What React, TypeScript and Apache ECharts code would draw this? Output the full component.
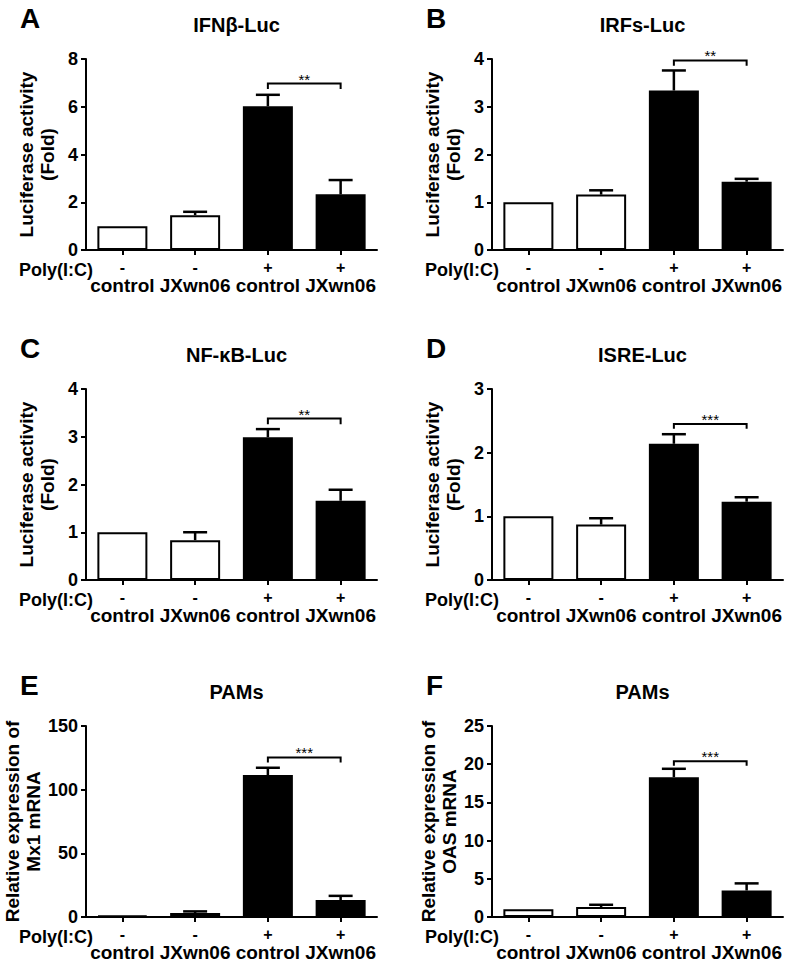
import React, { useEffect, useRef } from "react";
import * as echarts from "echarts";

// ---------- data ----------
const groups = ["control", "JXwn06", "control", "JXwn06"];
const polyIC = ["-", "-", "+", "+"];
const panelLetters = ["A", "B", "C", "D", "E", "F"];
const panelTitles = ["IFNβ-Luc", "IRFs-Luc", "NF-κB-Luc", "ISRE-Luc", "PAMs", "PAMs"];
const yNames = [
  "Luciferase activity\n(Fold)",
  "Luciferase activity\n(Fold)",
  "Luciferase activity\n(Fold)",
  "Luciferase activity\n(Fold)",
  "Relative expression of\nMx1 mRNA",
  "Relative expression of\nOAS mRNA",
];
const yMax = [8, 4, 4, 3, 150, 25];
const yStep = [2, 1, 1, 1, 50, 5];

const meanA = [1, 1.46, 6.02, 2.33];
const upperA = [null, 1.6, 6.5, 2.93];
const meanB = [1, 1.16, 3.34, 1.43];
const upperB = [null, 1.25, 3.76, 1.49];
const meanC = [1, 0.835, 2.99, 1.66];
const upperC = [null, 1.0, 3.16, 1.89];
const meanD = [1, 0.87, 2.14, 1.23];
const upperD = [null, 0.97, 2.29, 1.3];
const meanE = [1, 3.1, 111.5, 13.3];
const upperE = [null, 4.4, 117.2, 16.6];
const meanF = [1, 1.3, 18.3, 3.47];
const upperF = [null, 1.6, 19.4, 4.4];

const means = [meanA, meanB, meanC, meanD, meanE, meanF];
const uppers = [upperA, upperB, upperC, upperD, upperE, upperF];
const bracketLevel = [6.97, 3.97, 3.38, 2.45, 125.3, 20.4];
const bracketDrop = [0.23, 0.11, 0.12, 0.075, 4, 0.6];
const stars = ["**", "**", "**", "***", "***", "***"];

const FONT = "'Liberation Sans', Arial, sans-serif";

export default function App() {
  const ref = useRef<HTMLDivElement>(null);
  useEffect(() => {
    if (!ref.current) return;
    const chart = echarts.init(ref.current, null, { renderer: "svg" });

    // layout
    const colLeft = [86, 492];
    const gridW = 291;
    const rowTop = [59, 389, 726];
    const gridH = 191;

    const grids: any[] = [];
    const xAxes: any[] = [];
    const yAxes: any[] = [];
    const series: any[] = [];
    const titles: any[] = [];
    const graphics: any[] = [];

    for (let p = 0; p < 6; p++) {
      const col = p % 2;
      const row = Math.floor(p / 2);
      const left = colLeft[col];
      const top = rowTop[row];
      grids.push({ left, top, width: gridW, height: gridH, containLabel: false });

      xAxes.push({
        type: "category",
        gridIndex: p,
        data: groups.map((g, i) => ({ value: g + i, label: g })),
        axisLine: { lineStyle: { color: "#000", width: 2 } },
        axisTick: { show: true, alignWithLabel: true, length: 5, lineStyle: { color: "#000", width: 2 } },
        axisLabel: {
          interval: 0,
          margin: 9,
          formatter: (v: string, i: number) => `{s|${polyIC[i]}}\n{g|${groups[i]}}`,
          rich: {
            s: { fontFamily: FONT, fontWeight: "bold", fontSize: 16, color: "#000", lineHeight: 16 },
            g: { fontFamily: FONT, fontWeight: "bold", fontSize: 19, color: "#000", lineHeight: 20 },
          },
        },
      });

      yAxes.push({
        type: "value",
        gridIndex: p,
        min: 0,
        max: yMax[p],
        interval: yStep[p],
        name: yNames[p],
        nameLocation: "middle",
        nameGap: 28,
        nameRotate: 90,
        nameTextStyle: { fontFamily: FONT, fontWeight: "bold", fontSize: 19, color: "#000", lineHeight: 21 },
        axisLine: { show: true, lineStyle: { color: "#000", width: 2 } },
        axisTick: { show: true, length: 5, lineStyle: { color: "#000", width: 2 } },
        axisLabel: { fontFamily: FONT, fontWeight: "bold", fontSize: 18, color: "#000", margin: 8, lineHeight: 18 },
        splitLine: { show: false },
      });

      series.push({
        type: "bar",
        xAxisIndex: p,
        yAxisIndex: p,
        barWidth: 50,
        data: means[p].map((v, i) => ({
          value: v,
          itemStyle: {
            color: i < 2 ? "#fff" : "#000",
            borderColor: "#000",
            borderWidth: 2,
          },
        })),
        z: 2,
      });

      series.push({
        type: "custom",
        xAxisIndex: p,
        yAxisIndex: p,
        z: 3,
        data: uppers[p]
          .map((u, i) => (u == null ? null : [i, u, means[p][i]]))
          .filter((d) => d != null),
        renderItem: (params: any, api: any) => {
          const x = api.value(0);
          const top = api.coord([x, api.value(1)]);
          const base = api.coord([x, api.value(2)]);
          const capHalf = 12;
          return {
            type: "group",
            children: [
              {
                type: "line",
                shape: { x1: top[0], y1: top[1], x2: base[0], y2: base[1] },
                style: { stroke: "#000", lineWidth: 2.5 },
              },
              {
                type: "line",
                shape: { x1: top[0] - capHalf, y1: top[1], x2: top[0] + capHalf, y2: top[1] },
                style: { stroke: "#000", lineWidth: 2.5 },
              },
            ],
          };
        },
      });

      series.push({
        type: "custom",
        xAxisIndex: p,
        yAxisIndex: p,
        z: 4,
        data: [[2, bracketLevel[p], 3, bracketLevel[p] - bracketDrop[p]]],
        renderItem: (params: any, api: any) => {
          const a = api.coord([api.value(0), api.value(1)]);
          const b = api.coord([api.value(2), api.value(1)]);
          const d = api.coord([api.value(0), api.value(3)]);
          const drop = d[1] - a[1];
          return {
            type: "group",
            children: [
              {
                type: "polyline",
                shape: { points: [[a[0], a[1] + drop], a, b, [b[0], b[1] + drop]] },
                style: { stroke: "#000", lineWidth: 2, fill: "none" },
              },
              {
                type: "text",
                style: {
                  x: (a[0] + b[0]) / 2,
                  y: a[1] + 3,
                  text: stars[p],
                  fill: "#000",
                  font: `15px ${FONT}`,
                  align: "center",
                  verticalAlign: "bottom",
                },
              },
            ],
          };
        },
      });

      titles.push({
        text: panelTitles[p],
        left: left + gridW / 2,
        top: top - 49,
        textAlign: "center",
        textStyle: { fontFamily: FONT, fontWeight: "bold", fontSize: 20, color: "#000" },
      });
      titles.push({
        text: panelLetters[p],
        left: col === 0 ? 15 : 421,
        top: top - 60,
        textStyle: { fontFamily: FONT, fontWeight: "bold", fontSize: 28, color: "#000" },
      });
      graphics.push({
        type: "text",
        right: 787 - (left + 7),
        top: top + gridH + 11,
        style: { text: "Poly(I:C)", font: `bold 18px ${FONT}`, lineHeight: 18, fill: "#000" },
      });
    }

    chart.setOption({
      animation: false,
      backgroundColor: "#fff",
      title: titles,
      grid: grids,
      xAxis: xAxes,
      yAxis: yAxes,
      series,
      graphic: graphics,
    });
    return () => chart.dispose();
  }, []);

  return (
    <div
      ref={ref}
      style={{ position: "absolute", left: 0, top: 0, width: 787, height: 962 }}
    />
  );
}
